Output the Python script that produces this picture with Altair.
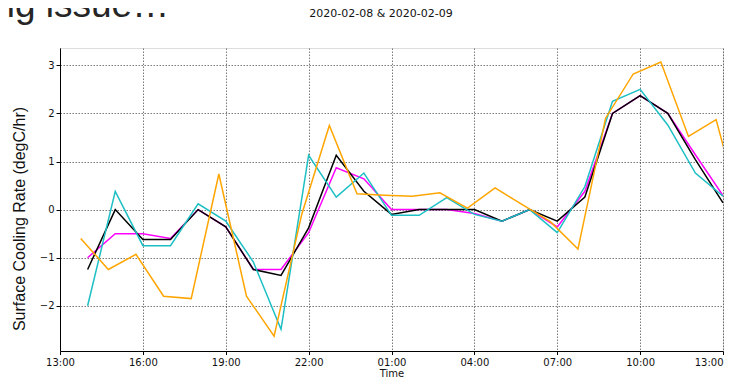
import altair as alt
import pandas as pd

# ---- data ----
hour_times = [
    "2020-02-08T14:00:00Z", "2020-02-08T15:00:00Z", "2020-02-08T16:00:00Z", "2020-02-08T17:00:00Z",
    "2020-02-08T18:00:00Z", "2020-02-08T19:00:00Z", "2020-02-08T20:00:00Z", "2020-02-08T21:00:00Z",
    "2020-02-08T22:00:00Z", "2020-02-08T23:00:00Z", "2020-02-09T00:00:00Z", "2020-02-09T01:00:00Z",
    "2020-02-09T02:00:00Z", "2020-02-09T03:00:00Z", "2020-02-09T04:00:00Z", "2020-02-09T05:00:00Z",
    "2020-02-09T06:00:00Z", "2020-02-09T07:00:00Z", "2020-02-09T08:00:00Z", "2020-02-09T09:00:00Z",
    "2020-02-09T10:00:00Z", "2020-02-09T11:00:00Z", "2020-02-09T12:00:00Z", "2020-02-09T13:00:00Z",
]
black_vals = [-1.245, 0.0, -0.62, -0.62, 0.0, -0.36, -1.245, -1.37, -0.38, 1.13, 0.38, -0.10,
              0.0, 0.0, 0.0, -0.24, 0.0, -0.24, 0.26, 2.0, 2.37, 2.0, 1.04, 0.14]
magenta_vals = [-1.0, -0.5, -0.5, -0.6, 0.0, -0.36, -1.245, -1.245, -0.48, 0.87, 0.64, 0.0,
                0.0, 0.0, -0.08, -0.24, 0.0, -0.36, 0.38, 2.0, 2.37, 2.0, 1.14, 0.29]
cyan_vals = [-2.0, 0.38, -0.75, -0.75, 0.12, -0.24, -1.09, -2.49, 1.13, 0.26, 0.76, -0.12,
             -0.12, 0.25, -0.1, -0.24, 0.0, -0.48, 0.48, 2.25, 2.5, 1.76, 0.76, 0.28]

quarter_times = [
    "2020-02-08T13:45:00Z", "2020-02-08T14:45:00Z", "2020-02-08T15:45:00Z", "2020-02-08T16:45:00Z",
    "2020-02-08T17:45:00Z", "2020-02-08T18:45:00Z", "2020-02-08T19:45:00Z", "2020-02-08T20:45:00Z",
    "2020-02-08T21:45:00Z", "2020-02-08T22:45:00Z", "2020-02-08T23:45:00Z", "2020-02-09T00:45:00Z",
    "2020-02-09T01:45:00Z", "2020-02-09T02:45:00Z", "2020-02-09T03:45:00Z", "2020-02-09T04:45:00Z",
    "2020-02-09T05:45:00Z", "2020-02-09T06:45:00Z", "2020-02-09T07:45:00Z", "2020-02-09T08:45:00Z",
    "2020-02-09T09:45:00Z", "2020-02-09T10:45:00Z", "2020-02-09T11:45:00Z", "2020-02-09T12:45:00Z",
    "2020-02-09T13:45:00Z",
]
orange_vals = [-0.6, -1.245, -0.93, -1.8, -1.85, 0.74, -1.8, -2.63, -0.1, 1.75, 0.33, 0.30,
               0.28, 0.35, 0.03, 0.45, 0.1, -0.25, -0.82, 1.9, 2.82, 3.07, 1.52, 1.87, -0.25]

y_ticks = [-2, -1, 0, 1, 2, 3]
x_tick_hours = [(8, 13), (8, 16), (8, 19), (8, 22), (9, 1), (9, 4), (9, 7), (9, 10), (9, 13)]

main_title = "Big issue…"
sub_title = "2020-02-08 & 2020-02-09"
y_title = "Surface Cooling Rate (degC/hr)"
x_title = "Time"

# ---- chart ----
x_enc = alt.X(
    "t:T",
    scale=alt.Scale(
        type="utc",
        domain=[alt.DateTime(year=2020, month=2, date=8, hours=13, utc=True),
                alt.DateTime(year=2020, month=2, date=9, hours=13, utc=True)],
        nice=False,
    ),
    axis=alt.Axis(
        values=[alt.DateTime(year=2020, month=2, date=d, hours=h, utc=True) for d, h in x_tick_hours],
        format="%H:%M",
        title=x_title,
        titleFont="DejaVu Sans", titleFontSize=10, titleFontWeight="normal", titleColor="#111",
        titlePadding=1,
        labelFont="DejaVu Sans", labelFontSize=10, labelColor="#111", labelPadding=3,
        labelAlign={"condition": {"test": "datum.index == 1", "value": "right"}, "value": "center"},
        tickSize=3.5, tickColor="black", domainColor="black",
        grid=True, gridColor="black", gridDash=[1.5, 1.5], gridOpacity=0.75, gridWidth=0.7,
        labelFlush=False, labelOverlap=False,
    ),
)
y_enc = alt.Y(
    "v:Q",
    scale=alt.Scale(domain=[-2.94, 3.36], nice=False, zero=False),
    axis=alt.Axis(
        values=y_ticks,
        title=None,
        labelExpr="datum.value < 0 ? '\u2212' + abs(datum.value) : datum.label",
        labelFont="DejaVu Sans", labelFontSize=10, labelColor="#111", labelPadding=2,
        tickSize=4, tickColor="black", domainColor="black",
        grid=True, gridColor="black", gridDash=[1.5, 1.5], gridOpacity=0.75, gridWidth=0.7,
    ),
)


def series(times, vals, color):
    df = pd.DataFrame({"t": times, "v": vals})
    return alt.Chart(df).mark_line(color=color, strokeWidth=1.5, clip=True).encode(x=x_enc, y=y_enc)


lines = [
    series(hour_times, magenta_vals, "#ff00ff"),
    series(hour_times, black_vals, "#000000"),
    series(hour_times, cyan_vals, "#1cbfc4"),
    series(quarter_times, orange_vals, "#ffa500"),
]

txt_df = pd.DataFrame({"a": [main_title], "b": [sub_title], "c": [y_title]})
big = alt.Chart(txt_df).mark_text(
    font="Liberation Sans", fontSize=37, align="left", baseline="alphabetic", color="#262626"
).encode(text="a:N", x=alt.value(-78), y=alt.value(-31))
sub = alt.Chart(txt_df).mark_text(
    font="DejaVu Sans", fontSize=11, align="center", baseline="alphabetic", color="#111"
).encode(text="b:N", x=alt.value(321), y=alt.value(-31))
ytl = alt.Chart(txt_df).mark_text(
    font="Liberation Sans", fontSize=16, align="center", baseline="middle", angle=270, color="#111"
).encode(text="c:N", x=alt.value(-40), y=alt.value(171))

chart = alt.layer(*lines, big, sub, ytl).properties(
    width=663,
    height=303,
    autosize=alt.AutoSizeParams(type="none"),
    padding={"left": 52, "top": 40, "right": 7, "bottom": 29},
).configure_view(stroke="black", strokeWidth=1).configure(background="white")

chart.save("out.html", embed_options={"renderer": "svg", "actions": False})
